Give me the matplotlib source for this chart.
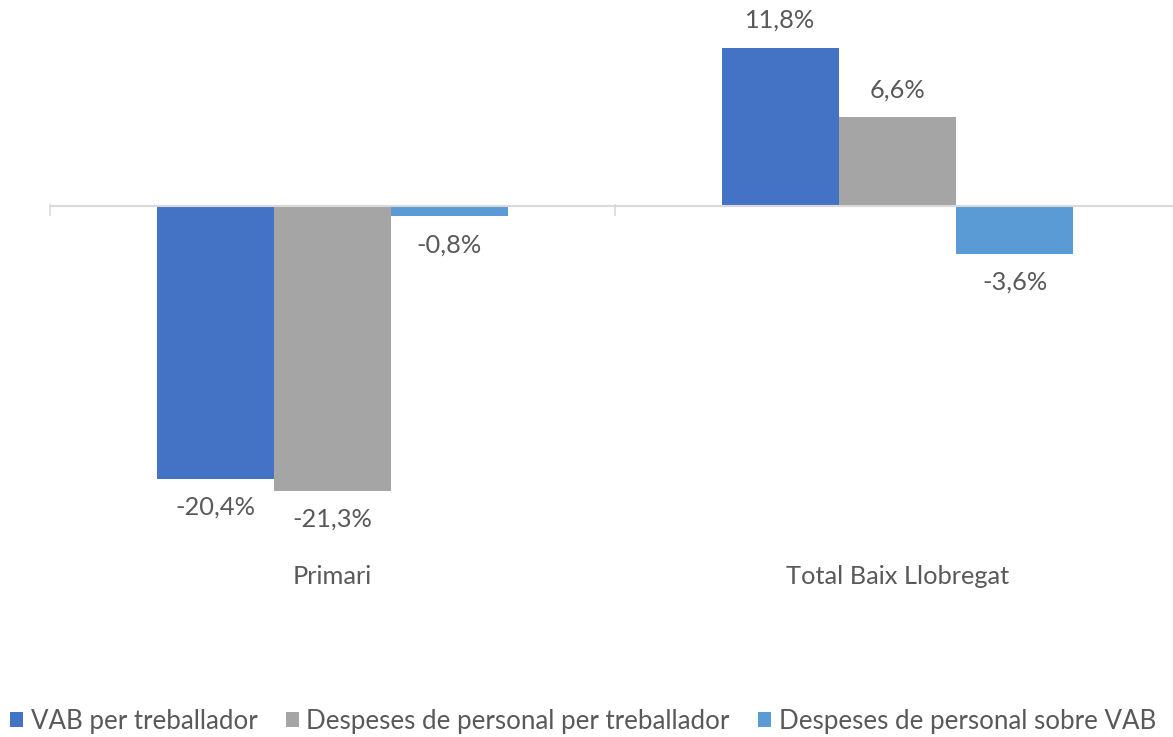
import matplotlib
matplotlib.use("Agg")
import matplotlib.pyplot as plt
from matplotlib.patches import Patch
import matplotlib.transforms as mtransforms

categories = ["Primari", "Total Baix Llobregat"]
series_names = ["VAB per treballador", "Despeses de personal per treballador",
                "Despeses de personal sobre VAB"]
vab = [-20.4, 11.8]
desp_treb = [-21.3, 6.6]
desp_vab = [-0.8, -3.6]
series_values = [vab, desp_treb, desp_vab]
colors = ["#4472C4", "#A5A5A5", "#5B9BD5"]
text_color = "#595959"
font = "Lato"
fs = 18.3

W, H = 1173, 737
fig = plt.figure(figsize=(W / 100, H / 100), dpi=100)
ax = fig.add_axes([50 / W, 1 - 540.5 / H, 1130 / W, 535.8 / H])
ax.set_xlim(-0.5, 1.5)
ax.set_ylim(-25, 15)
ax.axis("off")

bw = 117 / 565
offsets = [-bw, 0, bw]
for vals, off, col in zip(series_values, offsets, colors):
    xs = [i + off for i in range(len(categories))]
    ax.bar(xs, vals, width=bw, color=col, zorder=2)
    for x, v in zip(xs, vals):
        lab = f"{v:.1f}%".replace(".", ",")
        dy = 19.5 if v >= 0 else -20.5
        ax.annotate(lab, (x, v), xytext=(0, dy), textcoords="offset points",
                    ha="center", va="center", fontsize=fs, color=text_color,
                    family=font)

# zero axis line and ticks
ax.axhline(0, color="#D9D9D9", lw=1.5, zorder=3)
trans = mtransforms.blended_transform_factory(ax.transData, fig.transFigure)
for xt in [-0.5, 0.5, 1.5]:
    ax.plot([xt, xt], [1 - 205 / H, 1 - 215 / H], color="#D9D9D9", lw=1.2,
            transform=trans, clip_on=False)

for i, c in enumerate(categories):
    ax.text(i, 1 - 576 / H, c, transform=trans, ha="center", va="center",
            fontsize=fs, color=text_color, family=font)

handles = [Patch(facecolor=c, edgecolor="none") for c in colors]
fig.legend(handles, series_names, loc="center", bbox_to_anchor=(583 / W, 1 - 721 / H),
           ncol=3, frameon=False, handlelength=0.5, handleheight=0.5,
           handletextpad=0.3, columnspacing=1.1, labelcolor=text_color,
           borderaxespad=0, borderpad=0,
           prop={"family": font, "size": 18.6})

fig.savefig("out.png", dpi=100, facecolor="white")
